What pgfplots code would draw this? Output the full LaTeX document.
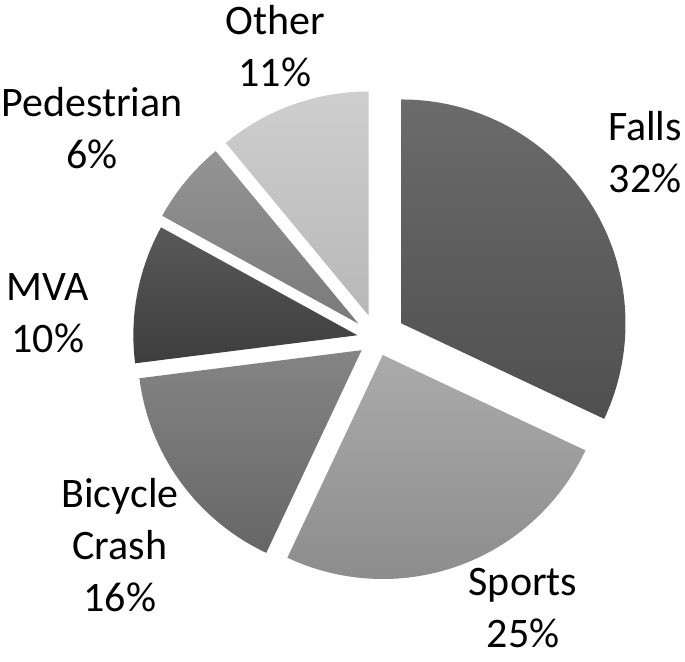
\documentclass[border=0pt]{standalone}
\usepackage{fontspec}
\setmainfont{Carlito}
\usepackage{pgfplots}
\usepackage{pgfplotstable}
\pgfplotsset{compat=1.18}

% value = percent, explode in px, top/bottom = grey level (% white)
\pgfplotstableread{
name value explode top bottom
Falls 32 29 42 31
Sports 25 17 67 55
Bicycle 16 19 52 40
MVA 10 20 35 24
Pedestrian 6 24 58 48
Other 11 25 81 72
}\causes

\begin{document}
\begin{tikzpicture}[lbl/.style={font=\fontsize{21}{26}\selectfont, align=center, inner sep=0pt}]
\begin{axis}[
    hide axis,
    x=0.5pt, y=0.5pt, y dir=reverse,
    xmin=0, xmax=685, ymin=0, ymax=661,
    clip=false,
]
\path (axis cs:0,0) rectangle (axis cs:685,661);
\coordinate (C) at (axis cs:377,339);
\node[lbl] at (axis cs:645,152) {Falls\\32\%};
\node[lbl] at (axis cs:523,608) {Sports\\25\%};
\node[lbl] at (axis cs:120,545) {Bicycle\\Crash\\16\%};
\node[lbl] at (axis cs:48,313) {MVA\\10\%};
\node[lbl] at (axis cs:92,128) {Pedestrian\\6\%};
\node[lbl] at (axis cs:275,46) {Other\\11\%};
\end{axis}
\xdef\cum{0}
\foreach \i in {0,...,5}{
  \pgfplotstablegetelem{\i}{value}\of\causes \let\val\pgfplotsretval
  \pgfplotstablegetelem{\i}{explode}\of\causes \let\ex\pgfplotsretval
  \pgfplotstablegetelem{\i}{top}\of\causes \let\tg\pgfplotsretval
  \pgfplotstablegetelem{\i}{bottom}\of\causes \let\bg\pgfplotsretval
  \colorlet{tc}{white!\tg!black}
  \colorlet{bc}{white!\bg!black}
  \pgfmathsetmacro\s{90-3.6*\cum}
  \pgfmathsetmacro\e{90-3.6*(\cum+\val)}
  \pgfmathsetmacro\m{(\s+\e)/2}
  \pgfmathsetmacro\d{0.5*\ex}
  \shade[top color=tc, bottom color=bc]
    ([shift={(\m:\d pt)}]C) -- ++(\s:112pt) arc[start angle=\s, end angle=\e, radius=112pt] -- cycle;
  \pgfmathsetmacro\c{\cum+\val}\xdef\cum{\c}
}
\end{tikzpicture}
\end{document}
